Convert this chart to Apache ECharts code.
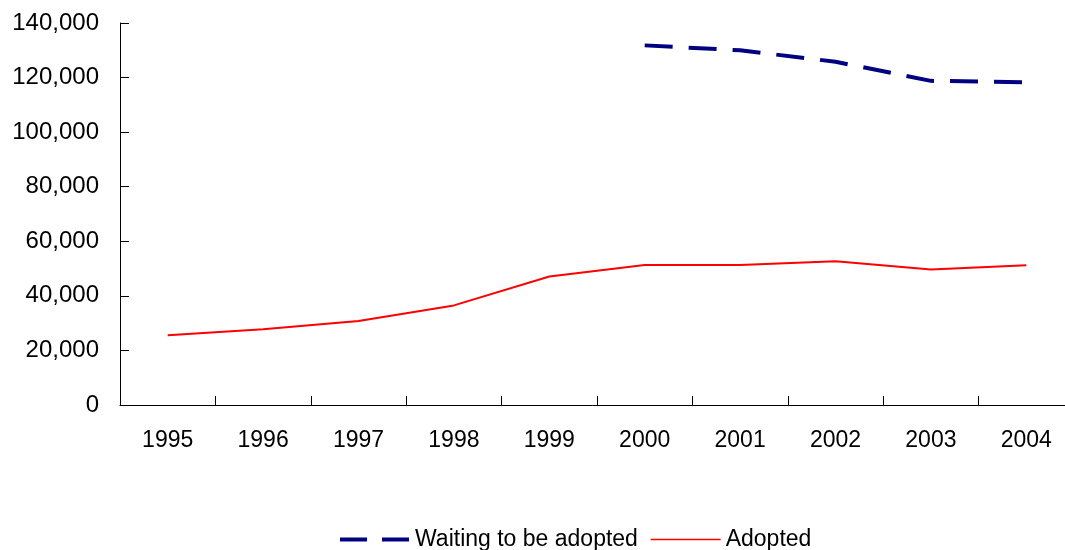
<!DOCTYPE html>
<html>
<head>
<meta charset="utf-8">
<script src="https://cdn.jsdelivr.net/npm/echarts@6/dist/echarts.min.js"></script>
<style>
  html, body { margin: 0; padding: 0; background: #fff; }
  #chart { width: 1065px; height: 550px; }
</style>
</head>
<body>
<div id="chart"></div>
<script>
const years = ['1995', '1996', '1997', '1998', '1999', '2000', '2001', '2002', '2003', '2004'];
const waiting = [null, null, null, null, null, 131800, 130000, 125800, 118800, 118300];
const adopted = [25600, 27800, 30800, 36500, 47100, 51300, 51300, 52700, 49700, 51200];

const chart = echarts.init(document.getElementById('chart'));
const font = 'Liberation Sans, Arial, sans-serif';

chart.setOption({
  animation: false,
  grid: {
    left: 120,
    top: 23,
    width: 954,
    height: 382,
    containLabel: false,
    outerBoundsMode: 'none',
  },
  legend: {
    top: 523,
    left: 333,
    itemWidth: 70,
    itemHeight: 14,
    itemGap: 12,
    itemStyle: { opacity: 0 },
    textStyle: { fontFamily: font, fontSize: 23, color: '#000' },
    data: [
      { name: 'Waiting to be adopted', lineStyle: { color: '#000080', width: 4, type: [27, 15] } },
      { name: 'Adopted', lineStyle: { color: '#ff0000', width: 1.5 } },
    ],
  },
  xAxis: {
    type: 'category',
    data: years,
    boundaryGap: true,
    axisLine: { lineStyle: { color: '#000', width: 1 } },
    axisTick: { show: true, inside: true, length: 9, lineStyle: { color: '#000', width: 1 } },
    axisLabel: { margin: 24, fontFamily: font, fontSize: 23, color: '#000' },
    splitLine: { show: false },
  },
  yAxis: {
    type: 'value',
    min: 0,
    max: 140000,
    interval: 20000,
    axisLine: { show: true, lineStyle: { color: '#000', width: 1 } },
    axisTick: { show: true, inside: true, length: 9, lineStyle: { color: '#000' } },
    axisLabel: {
      margin: 21,
      fontFamily: font,
      fontSize: 24,
      color: '#000',
      formatter: v => v.toLocaleString('en-US'),
    },
    splitLine: { show: false },
  },
  series: [
    {
      name: 'Waiting to be adopted',
      type: 'line',
      data: waiting,
      symbol: 'none',
      connectNulls: false,
      lineStyle: { color: '#000080', width: 4, type: [28, 16] },
      itemStyle: { color: '#000080' },
    },
    {
      name: 'Adopted',
      type: 'line',
      data: adopted,
      symbol: 'none',
      lineStyle: { color: '#ff0000', width: 2 },
      itemStyle: { color: '#ff0000' },
    },
  ],
});
</script>
</body>
</html>
